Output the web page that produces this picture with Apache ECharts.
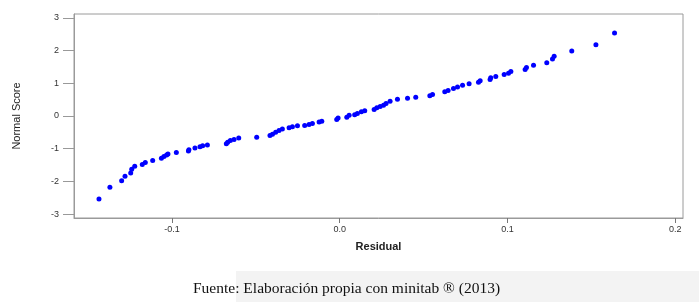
<!DOCTYPE html>
<html>
<head>
<meta charset="utf-8">
<script src="https://cdn.jsdelivr.net/npm/echarts@6/dist/echarts.min.js"></script>
<style>
html,body{margin:0;padding:0;background:#fff;}
#chart{width:699px;height:302px;}
</style>
</head>
<body>
<div id="chart"></div>
<script>
// Residuals (x) and normal scores (y)
const residuals = [
 -0.1435,-0.1370,-0.1300,-0.1280,-0.1246,-0.1240,-0.1222,-0.1177,-0.1159,-0.1115,
 -0.1063,-0.1048,-0.1032,-0.1024,-0.0974,-0.0902,-0.0899,-0.0863,-0.0833,-0.0817,
 -0.0789,-0.0676,-0.0668,-0.0652,-0.0630,-0.0602,-0.0495,-0.0416,-0.0401,-0.0382,
 -0.0362,-0.0342,-0.0302,-0.0282,-0.0252,-0.0209,-0.0183,-0.0163,-0.0123,-0.0107,
 -0.0018,-0.0010,0.0042,0.0056,0.0089,0.0105,0.0129,0.0149,0.0205,0.0221,
 0.0241,0.0261,0.0276,0.0300,0.0344,0.0404,0.0453,0.0537,0.0553,0.0626,
 0.0646,0.0678,0.0702,0.0732,0.0771,0.0827,0.0837,0.0896,0.0900,0.0930,
 0.0980,0.1006,0.1020,0.1105,0.1113,0.1155,0.1234,0.1268,0.1278,0.1383,
 0.1527,0.1638
];
const normalScores = [
 -2.54,-2.18,-1.98,-1.84,-1.74,-1.63,-1.54,-1.48,-1.42,-1.36,
 -1.29,-1.24,-1.19,-1.16,-1.12,-1.07,-1.03,-0.98,-0.94,-0.91,
 -0.89,-0.85,-0.80,-0.75,-0.72,-0.67,-0.65,-0.60,-0.56,-0.50,
 -0.44,-0.40,-0.36,-0.33,-0.30,-0.29,-0.26,-0.23,-0.18,-0.16,
 -0.11,-0.06,-0.04,0.02,0.04,0.08,0.13,0.16,0.20,0.25,
 0.29,0.33,0.38,0.45,0.51,0.54,0.57,0.62,0.66,0.74,
 0.78,0.84,0.89,0.94,0.99,1.03,1.08,1.12,1.17,1.21,
 1.27,1.31,1.36,1.42,1.48,1.55,1.63,1.74,1.83,1.99,
 2.18,2.54
];
const xTicks = [-0.1, 0.0, 0.1, 0.2];
const yTicks = [-3, -2, -1, 0, 1, 2, 3];
const xTitle = 'Residual';
const yTitle = 'Normal Score';
const caption = 'Fuente: Elaboración propia con minitab ® (2013)';

const pts = residuals.map((r, i) => [r, normalScores[i]]);
const chart = echarts.init(document.getElementById('chart'), null, {renderer: 'canvas'});
chart.setOption({
  animation: false,
  backgroundColor: '#ffffff',
  grid: {left: 74, right: 16, top: 14, bottom: 84, show: true, borderColor: '#9a9a9a', borderWidth: 1, containLabel: false},
  xAxis: {
    type: 'value', min: -0.1584, max: 0.2046,
    name: xTitle, nameLocation: 'middle', nameGap: 23,
    nameTextStyle: {fontFamily: 'Liberation Sans', fontSize: 11, fontWeight: 'bold', color: '#222'},
    axisLine: {show: true, onZero: false, lineStyle: {color: '#9a9a9a'}},
    axisTick: {show: true, length: 5, lineStyle: {color: '#777'}, customValues: xTicks},
    axisLabel: {fontFamily: 'Liberation Sans', fontSize: 9, color: '#333', margin: 7, customValues: xTicks,
      formatter: v => v.toFixed(1)},
    splitLine: {show: false}
  },
  yAxis: {
    type: 'value', min: -3.12, max: 3.12,
    name: yTitle, nameLocation: 'middle', nameGap: 52, nameRotate: 90,
    nameTextStyle: {fontFamily: 'Liberation Sans', fontSize: 11, color: '#222'},
    axisLine: {show: true, onZero: false, lineStyle: {color: '#9a9a9a'}},
    axisTick: {show: true, length: 11, lineStyle: {color: '#999'}, customValues: yTicks},
    axisLabel: {fontFamily: 'Liberation Sans', fontSize: 9, color: '#333', margin: 15, customValues: yTicks,
      formatter: v => String(Math.round(v))},
    splitLine: {show: false}
  },
  graphic: [
    {type: 'rect', left: 236, top: 271, shape: {width: 463, height: 31}, style: {fill: '#f3f3f3'}, z: -10},
    {type: 'text', left: 193, top: 281, style: {text: caption, font: '15.5px "Liberation Serif"', fill: '#111'}}
  ],
  series: [{
    type: 'scatter', data: pts, symbol: 'circle', symbolSize: 5,
    itemStyle: {color: '#0000ff', opacity: 1}
  }]
});
</script>
</body>
</html>
